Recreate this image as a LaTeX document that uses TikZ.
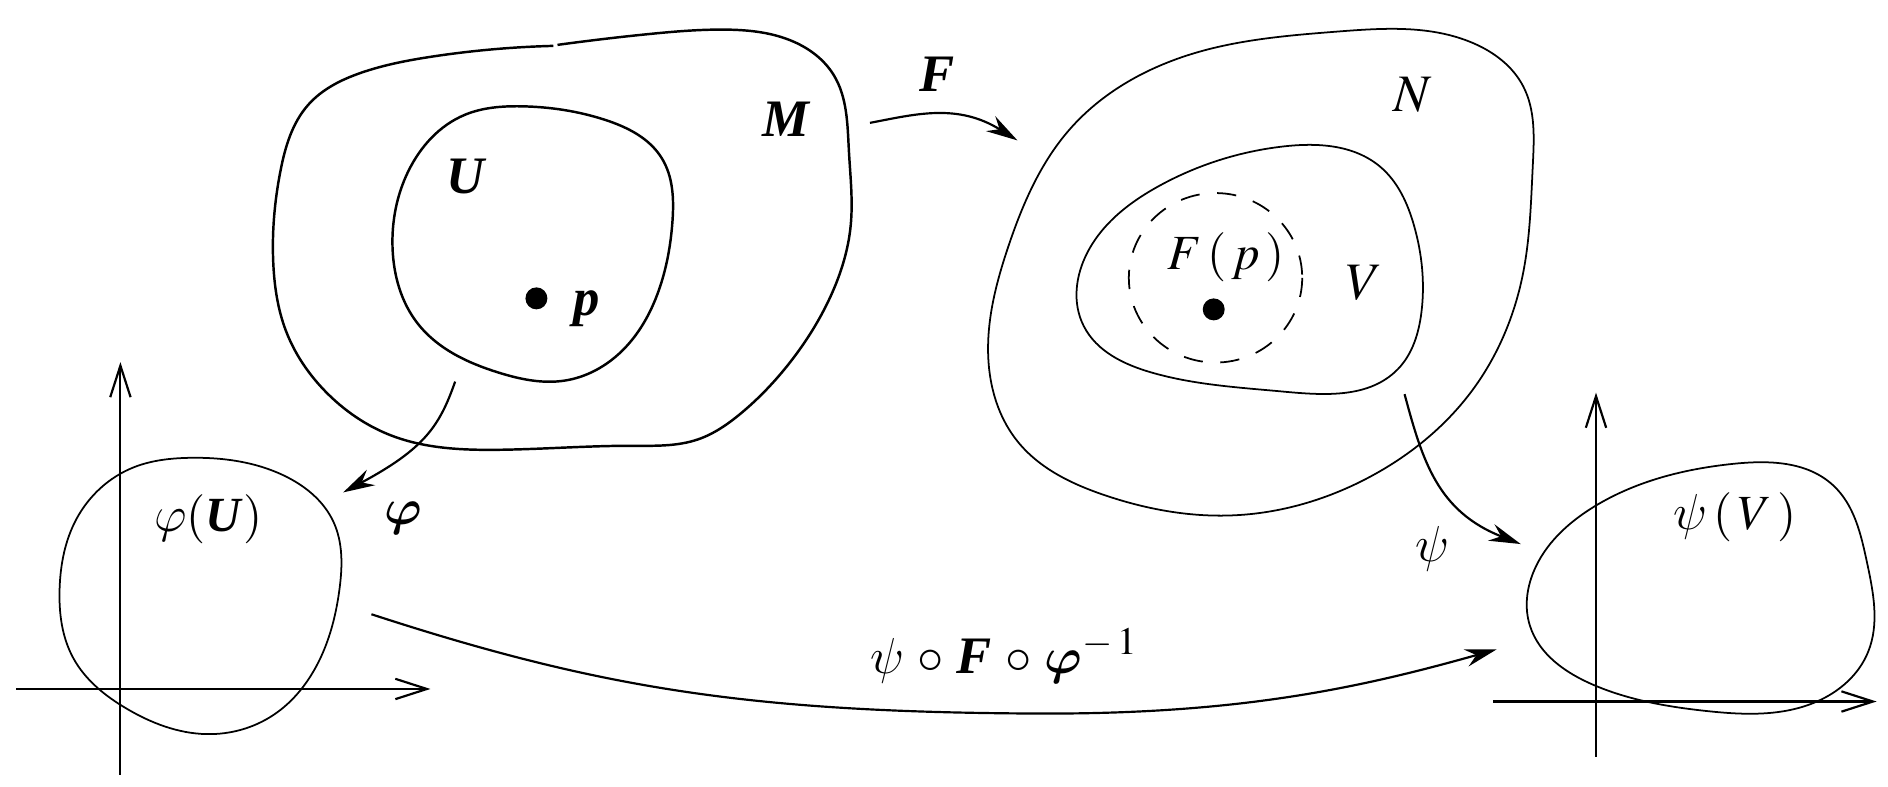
\documentclass[tikz,border=0pt]{standalone}
\usepackage{mathptmx}
\usepackage{fontspec}
\setmainfont{Liberation Serif}
\usetikzlibrary{arrows.meta,hobby}
\DeclareSymbolFont{cmletters}{OML}{cmm}{m}{it}
\DeclareSymbolFont{cmboldletters}{OML}{cmm}{b}{it}
\DeclareMathSymbol{\varphi}{\mathord}{cmletters}{"27}
\DeclareMathSymbol{\psi}{\mathord}{cmletters}{"20}
\DeclareMathSymbol{\bvarphi}{\mathord}{cmboldletters}{"27}
\newcommand{\bitl}[1]{\textbf{\textit{#1}}}
\begin{document}
\begin{tikzpicture}[x=0.00602cm,y=-0.005026cm,
  lab/.style={font=\fontsize{14}{17}\selectfont, inner sep=0pt, anchor=base},
  biglab/.style={font=\fontsize{15}{18}\selectfont, inner sep=0pt, anchor=base},
  thickcurve/.style={line width=0.7pt},
  thincurve/.style={line width=0.5pt},
  maparrow/.style={line width=0.62pt,-{Stealth[length=9pt,width=5pt,inset=3pt]}},
  axisline/.style={line width=0.62pt,-{Straight Barb[length=9pt,width=5.8pt]}},
  dot/.style={circle, fill=black, inner sep=0pt, minimum size=0.22cm}]
\useasboundingbox (0,0) rectangle (3136,1568);

% ---- manifold M and U
\draw[thickcurve] plot[hobby] coordinates {
 (926,89.5) (1077,68) (1200,59) (1312,80) (1385,150) (1410,300)
 (1413,450) (1380,590) (1312,723) (1229,826) (1160,876) (1049,889)
 (828,897) (651,869) (540,780) (475,660) (454,527) (466,340)
 (512,209) (600,145) (717,113) (919,91.5)};
\draw[thickcurve] plot[closed hobby] coordinates {
 (866,212) (1005,239) (1099,315) (1117,441) (1094,580) (1033,700)
 (938,759) (828,743) (695,647) (652,494) (678,342) (772,229)};
\node[dot] (p) at (891,595) {};
\node[biglab] (plab) at (974,630) {\bitl{p}};
\node[biglab] (Ulab) at (775,385) {\bitl{U}};
\node[biglab] (Mlab) at (1307,272) {\bitl{M}};

% ---- phi(U) chart
\draw[thincurve] plot[closed hobby] coordinates {
 (316,913) (471,948) (554,1041) (564,1174) (532,1313) (454,1426)
 (343,1464) (210,1413) (122,1313) (99,1174) (127,1035) (222,932)};
\coordinate (ax1o) at (200,1545);
\coordinate (ax1t) at (200,722);
\coordinate (ay1o) at (27,1374);
\coordinate (ay1t) at (715,1374);
\draw[axisline] (ax1o) -- (ax1t);
\draw[axisline] (ay1o) -- (ay1t);
\node[lab] (phiUlab) at (346,1059) {$\varphi(\mbox{\bitl{U}})$};

% ---- manifold N, V
\draw[thincurve] plot[closed hobby] coordinates {
 (2221,63) (2447,86) (2530,172) (2546,330) (2530,544) (2447,776)
 (2280,948) (2043,1028) (1836,988) (1690,880) (1643,736) (1675,491)
 (1776,259) (1984,106)};
\draw[thincurve] plot[closed hobby] coordinates {
 (2132,292) (2292,332) (2349,451) (2361,623) (2322,736) (2132,781)
 (1913,743) (1800,650) (1806,504) (1925,371)};
\draw[thincurve, dash pattern=on 5.5pt off 5pt] (2019,554) ellipse [x radius=144, y radius=169];
\node[dot] (Fp) at (2016,617) {};
\node[lab] (Fplab) at (2037,537) {$F\,(\,p\,)$};
\node[biglab] (Vlab) at (2266,597) {$V$};
\node[biglab] (Nlab) at (2346,222) {$N$};

% ---- psi(V) chart
\draw[thincurve] plot[closed hobby] coordinates {
 (2879,925) (3045,968) (3101,1121) (3103,1300) (3018,1399) (2835,1418)
 (2647,1366) (2541,1247) (2547,1141) (2647,1011)};
\coordinate (ax2o) at (2651,1509);
\coordinate (ax2t) at (2651,783);
\coordinate (ay2o) at (2480,1399);
\coordinate (ay2t) at (3117,1399);
\draw[axisline] (ax2o) -- (ax2t);
\draw[axisline] (ay2o) -- (ay2t);
\node[lab] (psiVlab) at (2882,1056) {$\psi\,(\,V\,)$};

% ---- maps
\coordinate (Fs) at (1445,245);
\coordinate (Fe) at (1690,280);
\draw[maparrow] (Fs) .. controls (1520,228) and (1590,205) .. (Fe);
\node[biglab] (Flab) at (1557,182) {\bitl{F}};

\coordinate (phis) at (756,761);
\coordinate (phie) at (570,982);
\draw[maparrow] (phis) .. controls (730,850) and (705,895) .. (phie);
\node[lab] (philab) at (670,1045) {$\bvarphi$};

\coordinate (psis) at (2333,786);
\coordinate (psie) at (2526,1085);
\draw[maparrow] (psis) .. controls (2363,920) and (2388,1020) .. (psie);
\node[biglab] (psilab) at (2380,1120) {$\psi$};

\coordinate (cs) at (617,1225);
\coordinate (cm) at (1720,1423);
\coordinate (ce) at (2486,1295);
\draw[maparrow] (cs) .. controls (1000,1375) and (1250,1420) .. (cm)
  .. controls (2050,1425) and (2250,1375) .. (ce);
\node[biglab] (complab) at (1668,1343) {$\psi\,\mathbin{\circ}\,\mbox{\bitl{F}}\,\mathbin{\circ}\,\bvarphi^{-\,1}$};
\end{tikzpicture}
\end{document}
